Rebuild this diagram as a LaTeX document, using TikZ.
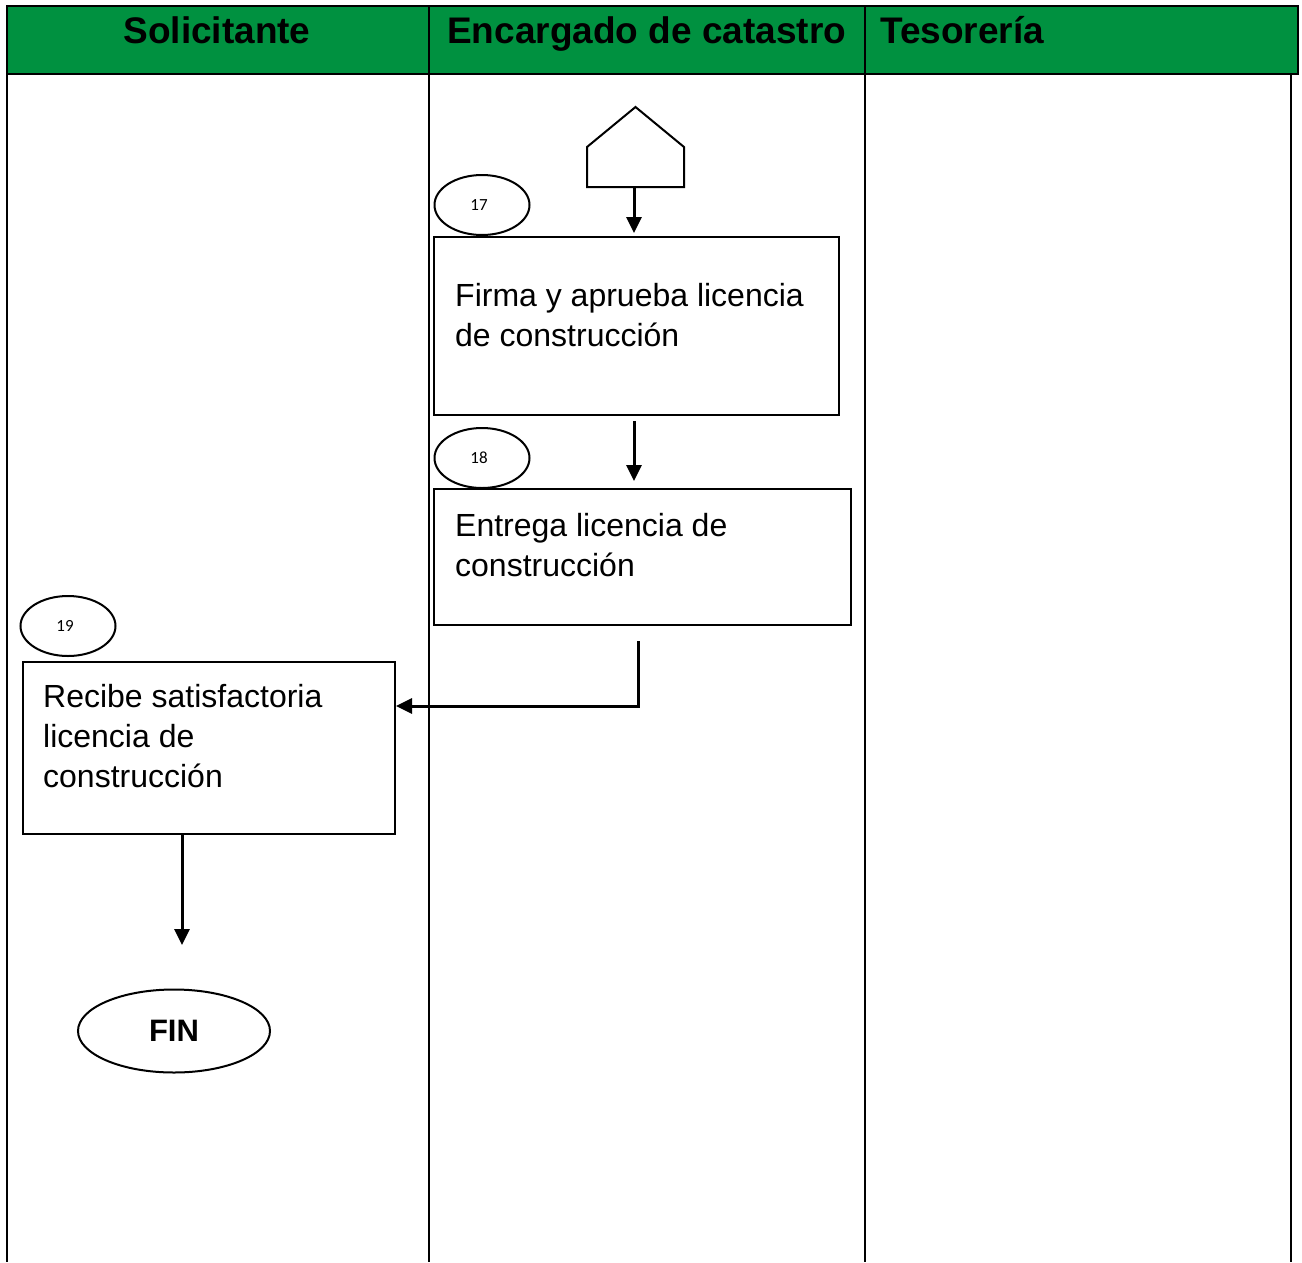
\documentclass[tikz,border=0pt]{standalone}
\usepackage{fontspec}
\setmainfont{Liberation Sans}
\newfontfamily\numfont{Carlito}
\usetikzlibrary{arrows.meta,shapes.geometric,calc}
\definecolor{headgreen}{RGB}{0,145,64}
\begin{document}
\begin{tikzpicture}[x=1pt,y=-1pt,
  lane/.style={line width=2pt},
  box/.style={draw,line width=2pt,rectangle,inner sep=0pt,anchor=north west},
  boxtext/.style={anchor=west,align=left,inner sep=0pt,font=\fontsize{32}{40}\selectfont},
  num/.style={draw,ellipse,line width=2pt,minimum width=95pt,minimum height=60pt,inner sep=0pt,font=\numfont\fontsize{17}{17}\selectfont},
  head/.style={inner sep=0pt,anchor=base,font=\bfseries\fontsize{37}{37}\selectfont},
  arr/.style={line width=3pt,-{Triangle[length=16pt,width=15pt]}}]
\useasboundingbox (0,0) rectangle (1302,1262);
% header band
\fill[headgreen] (7,6) rectangle (1298,74);
\draw[line width=2.5pt] (7,6) rectangle (1298,74);
\node[head] (h1) at (217,43) {Solicitante};
\node[head,anchor=base west] (h2) at (447,43) {Encargado de catastro};
\node[head,anchor=base west] (h3) at (880,43) {Tesorería};
% swimlane borders
\draw[lane] (7,6) -- (7,1262);
\draw[lane] (429,6) -- (429,1262);
\draw[lane] (865,6) -- (865,1262);
\draw[lane] (1291,74) -- (1291,1262);
% off-page connector
\draw[line width=2pt] (587,187) -- (587,147) -- (635.5,107) -- (684,147) -- (684,187) -- cycle;
\coordinate (pent) at (634,187);
% process boxes
\node[box,minimum width=405pt,minimum height=178pt] (b1) at (433,236) {};
\node[boxtext] (t1) at (455,315) {Firma y aprueba licencia\\de construcción};
\node[box,minimum width=417pt,minimum height=136pt] (b2) at (433,488) {};
\node[boxtext] (t2) at (455,545) {Entrega licencia de\\construcción};
\node[box,minimum width=372pt,minimum height=172pt] (b3) at (22,661) {};
\node[boxtext] (t3) at (43,736) {Recibe satisfactoria\\licencia de\\construcción};
% step numbers
\node[num] (n17) at (482,205) {\hspace*{-6pt}17};
\node[num] (n18) at (482,458) {\hspace*{-6pt}18};
\node[num] (n19) at (68,626) {\hspace*{-6pt}19};
% end terminator
\node[draw,ellipse,line width=2pt,minimum width=192pt,minimum height=83pt,inner sep=0pt,font=\bfseries\fontsize{31}{31}\selectfont] (fin) at (174,1031) {FIN};
% connectors
\coordinate (c1) at (634,421);
\coordinate (c2) at (638,641);
\coordinate (c3) at (182,945);
\draw[arr,shorten >=3pt] (pent) -- (pent |- b1.north);
\draw[arr,shorten >=7pt] (c1) -- (c1 |- b2.north);
\draw[arr] (c2) |- (b3.east |- 0,706);
\draw[arr] (b3.south -| c3) -- (c3);
\end{tikzpicture}
\end{document}
